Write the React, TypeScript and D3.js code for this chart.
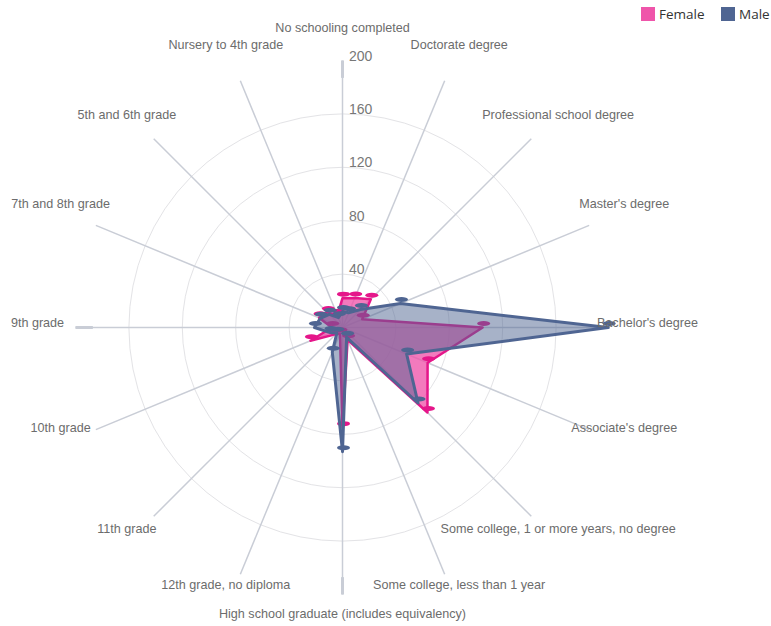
import React from "react";
import * as d3 from "d3";

const categories = [
  "No schooling completed",
  "Doctorate degree",
  "Professional school degree",
  "Master's degree",
  "Bachelor's degree",
  "Associate's degree",
  "Some college, 1 or more years, no degree",
  "Some college, less than 1 year",
  "High school graduate (includes equivalency)",
  "12th grade, no diploma",
  "11th grade",
  "10th grade",
  "9th grade",
  "7th and 8th grade",
  "5th and 6th grade",
  "Nursery to 4th grade",
];
const femaleValues = [22, 24, 30, 16, 105, 69, 90, 10, 75, 5, 7, 26, 8, 19, 16, 10];
const maleValues = [12, 12, 19, 47, 199, 52, 80, 8, 93, 20, 6, 10, 21, 18, 14, 8];
const tickValues = [40, 80, 120, 160, 200];
const seriesNames = ["Female", "Male"];

// layout constants
const W = 771;
const H = 626;
const CX = 342.5;
const CY = 327.5;
const R = 267;
const LABEL_R = 305;
const LABEL_Y = [28, 45, 115, 204, 323, 428, 529, 585, 614, 585, 529, 428, 323, 204, 115, 45];

const FEMALE_LINE = "#e5168a";
const FEMALE_FILL = "#ef55aa";
const MALE_COLOR = "#4f6592";

export default function App() {
  const r = d3.scaleLinear().domain([0, 200]).range([0, R]);
  const n = categories.length;
  const angle = (i: number) => (i * 2 * Math.PI) / n;
  const px = (i: number, v: number) => r(v) * Math.sin(angle(i));
  const py = (i: number, v: number) => -r(v) * Math.cos(angle(i));

  const radial = d3
    .lineRadial<number>()
    .angle((_, i) => angle(i))
    .radius((d) => r(d))
    .curve(d3.curveLinearClosed);

  const axisFont = "'Liberation Sans', Arial, sans-serif";

  return (
    <svg
      width={W}
      height={H}
      style={{ position: "fixed", left: 0, top: 0, background: "#fff" }}
    >
      <g transform={`translate(${CX},${CY})`}>
        {tickValues.slice(0, 4).map((t) => (
          <circle key={t} r={r(t)} fill="none" stroke="#e3e3e6" strokeWidth={1} />
        ))}
        {categories.map((c, i) => (
          <line
            key={c}
            x1={0}
            y1={0}
            x2={px(i, 200)}
            y2={py(i, 200)}
            stroke="#c9cdd6"
            strokeWidth={1.5}
          />
        ))}
        {[0, 4, 8, 12].map((i) => (
          <line
            key={"thick" + i}
            x1={px(i, 187)}
            y1={py(i, 187)}
            x2={px(i, 200)}
            y2={py(i, 200)}
            stroke="#c9cdd6"
            strokeWidth={3}
          />
        ))}
        <path
          d={radial(femaleValues) || ""}
          fill={FEMALE_FILL}
          fillOpacity={0.78}
          stroke={FEMALE_LINE}
          strokeWidth={2.5}
          strokeLinejoin="round"
        />
        {femaleValues.map((v, i) => (
          <ellipse
            key={"f" + i}
            cx={px(i, v) + 1}
            cy={py(i, v) - 4}
            rx={6.5}
            ry={2.5}
            fill={FEMALE_LINE}
          />
        ))}
        <path
          d={radial(maleValues) || ""}
          fill={MALE_COLOR}
          fillOpacity={0.5}
          stroke={MALE_COLOR}
          strokeWidth={3}
          strokeLinejoin="round"
        />
        {maleValues.map((v, i) => (
          <ellipse
            key={"m" + i}
            cx={px(i, v) + 1}
            cy={py(i, v) - 4}
            rx={6.5}
            ry={2.5}
            fill={MALE_COLOR}
          />
        ))}
        {tickValues.map((t) => (
          <text
            key={"t" + t}
            x={6.5}
            y={-r(t)}
            fontFamily={axisFont}
            fontSize={14}
            fill="#777"
          >
            {t}
          </text>
        ))}
      </g>
      {categories.map((c, i) => (
        <text
          key={"l" + i}
          x={CX + LABEL_R * Math.sin(angle(i))}
          y={LABEL_Y[i]}
          dy="0.35em"
          textAnchor="middle"
          fontFamily={axisFont}
          fontSize={12.6}
          fill="#6c6c6c"
        >
          {c}
        </text>
      ))}
      <g fontFamily="'Open Sans', sans-serif" fontSize={13.5} fill="#333">
        <rect x={641} y={7} width={14} height={14} fill={FEMALE_FILL} />
        <text x={659} y={19}>{seriesNames[0]}</text>
        <rect x={721} y={7} width={14} height={14} fill={MALE_COLOR} />
        <text x={739} y={19}>{seriesNames[1]}</text>
      </g>
    </svg>
  );
}
